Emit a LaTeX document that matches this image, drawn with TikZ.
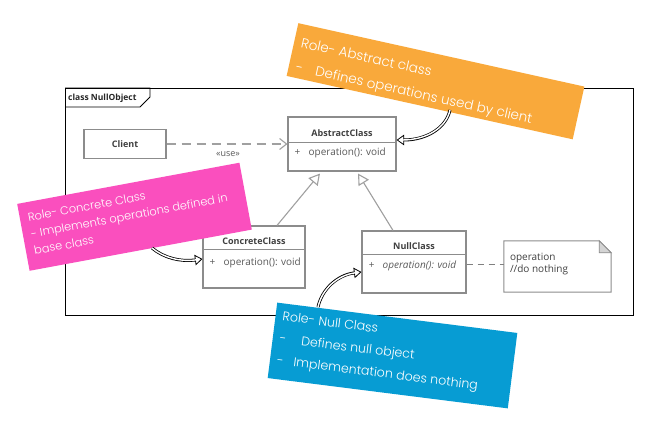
\documentclass[tikz,border=0pt]{standalone}
\usepackage{fontspec}
\setmainfont{Open Sans}
\newfontfamily\handfont{Poppins Light}
\usetikzlibrary{arrows.meta}
\definecolor{notorange}{HTML}{F9A93B}
\definecolor{notpink}{HTML}{FA4FBE}
\definecolor{notblue}{HTML}{079CD3}
\definecolor{boxgray}{HTML}{8C8C8C}
\definecolor{linegray}{HTML}{A0A0A0}
\definecolor{txtdark}{HTML}{404040}
\definecolor{txtop}{HTML}{5A5A5A}
\definecolor{foldgray}{HTML}{D4D4D4}
\newcommand{\handarrow}[1]{\draw[hcA] #1; \draw[hcB] #1; \draw[hcC] #1;}
\begin{document}
\begin{tikzpicture}[x=1pt,y=-1pt,
 classbox/.style={draw=boxgray, line width=1.1pt, fill=white, inner sep=0pt},
 classname/.style={font=\fontsize{9}{10}\selectfont\bfseries, text=txtdark, inner sep=0pt},
 optext/.style={font=\fontsize{10}{11.5}\selectfont, text=txtop, inner sep=0pt, anchor=west},
 divider/.style={draw=boxgray, line width=1.1pt},
 general/.style={draw=linegray, line width=1.1pt, -{Triangle[open, length=11pt, width=12pt, fill=white]}},
 depend/.style={draw=linegray, line width=1.1pt, dash pattern=on 9pt off 6pt, -{Straight Barb[length=7pt, width=11pt]}},
 notelink/.style={draw=gray, line width=0.9pt, dash pattern=on 6pt off 5pt},
 stickynote/.style={inner sep=0pt, transform shape},
 handtext/.style 2 args={font=\handfont\fontsize{#1}{#2}\selectfont, text=white, anchor=north west, align=left, inner sep=0pt, transform shape},
 hcA/.style={line width=0.8pt, -{Triangle[length=7.5pt, width=10.5pt, fill=white, line width=0.8pt]}},
 hcB/.style={line width=3pt, black, shorten >=7pt},
 hcC/.style={line width=1.4pt, white, shorten >=5.8pt},
]
\path[fill=white] (0,0) rectangle (663,433);
\useasboundingbox (0,0) rectangle (663,433);

% frame
\node[draw=black, line width=0.8pt, minimum width=568pt, minimum height=227pt, inner sep=0pt, anchor=north west] (frame) at (65,88) {};
\draw[black, line width=0.8pt] (frame.north west) -- ++(85,0) -- ++(0,9) -- ++(-10,10) -- ++(-75,0);
\node[anchor=west, inner sep=0pt, font=\fontsize{8.5}{10}\selectfont\bfseries, text=black!85] (framelabel) at (68,98) {class NullObject};

% client
\node[classbox, minimum width=82pt, minimum height=29pt, font=\fontsize{9}{10}\selectfont\bfseries, text=txtdark] (client) at (125,144) {Client};

% abstract class
\node[classbox, minimum width=108pt, minimum height=54pt] (abs) at (342,144) {};
\draw[divider] ([yshift=-26pt]abs.north west) -- ([yshift=-26pt]abs.north east);
\node[classname] (absname) at ([yshift=-17pt]abs.north) {AbstractClass};
\node[optext] (absop) at ([xshift=7pt,yshift=-36pt]abs.north west) {\makebox[14pt][l]{+}operation(): void};

% concrete class
\node[classbox, minimum width=102pt, minimum height=62pt] (conc) at (254,257) {};
\draw[divider] ([yshift=-24pt]conc.north west) -- ([yshift=-24pt]conc.north east);
\node[classname] (concname) at ([yshift=-16pt]conc.north) {ConcreteClass};
\node[optext] (concop) at ([xshift=7pt,yshift=-37pt]conc.north west) {\makebox[14pt][l]{+}operation(): void};

% null class
\node[classbox, minimum width=104pt, minimum height=62pt] (null) at (414,262) {};
\draw[divider] ([yshift=-24pt]null.north west) -- ([yshift=-24pt]null.north east);
\node[classname] (nullname) at ([yshift=-16pt]null.north) {NullClass};
\node[optext] (nullop) at ([xshift=7pt,yshift=-35pt]null.north west) {\itshape\makebox[14pt][l]{+}operation(): void};

% note
\node[minimum width=107pt, minimum height=51pt, inner sep=0pt] (note) at (557.5,266.5) {};
\draw[draw=boxgray, line width=1pt, fill=white] (note.north west) -- ([xshift=-12pt]note.north east) -- ([yshift=-12pt]note.north east) -- (note.south east) -- (note.south west) -- cycle;
\draw[draw=boxgray, line width=0.8pt, fill=foldgray] ([xshift=-12pt]note.north east) -- ([xshift=-12pt,yshift=-12pt]note.north east) -- ([yshift=-12pt]note.north east) -- cycle;
\node[optext, text=txtdark, align=left] (notetext) at ([xshift=6pt,yshift=2.5pt]note.west) {operation\\//do nothing};

% connectors
\draw[depend] (client.east) -- (abs.west);
\node[font=\fontsize{9}{10}\selectfont, text=txtop, inner sep=0pt] (uselabel) at (228,154) {«use»};
\draw[general] ([xshift=23pt]conc.north) -- ([xshift=-22pt,yshift=-2pt]abs.south);
\draw[general] ([xshift=-21pt]null.north) -- ([xshift=16pt,yshift=-2pt]abs.south);
\draw[notelink] ([yshift=-2pt]null.east) -- ([yshift=2.5pt]note.west);

% sticky notes
\begin{scope}[shift={(435.5,81.25)}, rotate=-12.5]
\node[stickynote, fill=notorange, minimum width=293pt, minimum height=54pt] (orange) at (0,0) {};
\node[handtext={13.5}{24.5}] (orangetext) at (-139.5,-18) {\rule{0pt}{14pt}Role- Abstract class\\-\hspace{13pt}Defines operations used by client};
\end{scope}

\begin{scope}[shift={(134.5,216.75)}, rotate=10.5]
\node[stickynote, fill=notpink, minimum width=226pt, minimum height=68pt] (pink) at (0,0) {};
\node[handtext={11.4}{17}] (pinktext) at (-105,-27) {\rule{0pt}{12pt}Role- Concrete Class\\- Implements operations defined in\\base class};
\end{scope}

\begin{scope}[shift={(392.5,355.5)}, rotate=-7.2]
\node[stickynote, fill=notblue, minimum width=242pt, minimum height=76pt] (blue) at (0,0) {};
\node[handtext={12.6}{22}] (bluetext) at (-114,-34) {\rule{0pt}{13pt}Role- Null Class\\-\hspace{15pt}Defines null object\\-\hspace{10pt}Implementation does nothing};
\end{scope}

% callout arrows
\coordinate (ostart) at (450,110);
\coordinate (pstart) at (152,248);
\coordinate (bstart) at (318,307);
\handarrow{(ostart) .. controls +(-4,18) and +(30,0) .. ([yshift=4pt]abs.east)}
\handarrow{(pstart) .. controls +(12,10) and +(-22,3) .. ([yshift=-2pt]conc.west)}
\handarrow{(bstart) .. controls +(4,-18) and +(-24,3) .. ([yshift=-10pt]null.west)}
\end{tikzpicture}
\end{document}
